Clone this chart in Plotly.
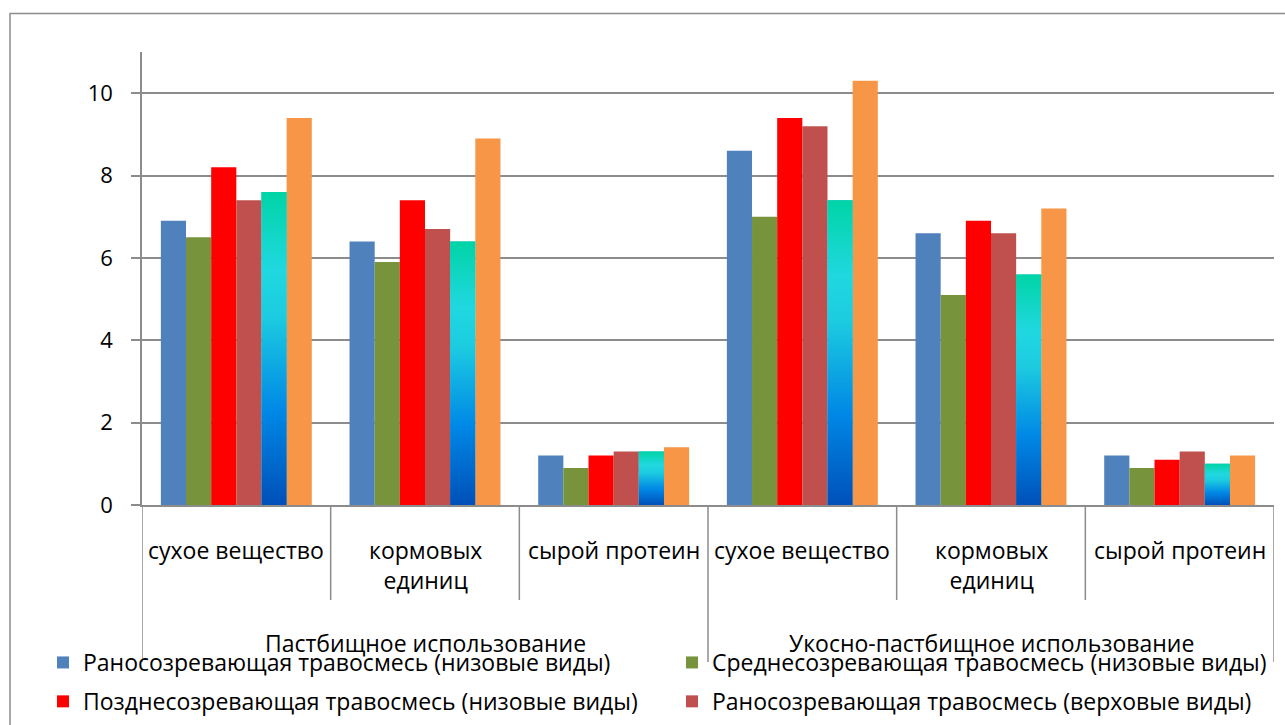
import plotly.graph_objects as go

# Categories (two-level axis)
groups = ["Пастбищное использование"] * 3 + ["Укосно-пастбищное использование"] * 3
metrics = ["сухое вещество", "кормовых единиц", "сырой протеин"] * 2
metric_labels = ["сухое вещество", "кормовых<br>единиц", "сырой протеин"] * 2
group_labels = ["Пастбищное использование", "Укосно-пастбищное использование"]

# Series values
early_low = [6.9, 6.4, 1.2, 8.6, 6.6, 1.2]
mid_low = [6.5, 5.9, 0.9, 7.0, 5.1, 0.9]
late_low = [8.2, 7.4, 1.2, 9.4, 6.9, 1.1]
early_high = [7.4, 6.7, 1.3, 9.2, 6.6, 1.3]
mid_high = [7.6, 6.4, 1.3, 7.4, 5.6, 1.0]
late_high = [9.4, 8.9, 1.4, 10.3, 7.2, 1.2]

# name, values, colour, which legend column (None = not shown, cut off in the original)
series = [
    ("Раносозревающая травосмесь (низовые виды)", early_low, "#4f81bd", "legend"),
    ("Среднесозревающая травосмесь (низовые виды)", mid_low, "#77933c", "legend2"),
    ("Позднесозревающая травосмесь (низовые виды)", late_low, "#ff0000", "legend"),
    ("Раносозревающая травосмесь (верховые виды)", early_high, "#c0504d", "legend2"),
    ("Среднесозревающая травосмесь (верховые виды)", mid_high, "#14b4e4", None),
    ("Позднесозревающая травосмесь (верховые виды)", late_high, "#f79646", None),
]

FONT = "Open Sans, Noto Sans, sans-serif"
GRID = "#8c8c8c"
BARGAP = 0.2
W, H = 1285, 725
L, R, T, B = 142, 11, 52, 220

fig = go.Figure()
for name, vals, color, leg in series:
    fig.add_trace(
        go.Bar(
            x=[groups, metrics],
            y=vals,
            name=name,
            marker=dict(color=color, line=dict(width=0)),
            showlegend=leg is not None,
            legend=leg or "legend",
            legendgroup=name,
        )
    )

# gradient overlay for the 5th series (teal -> blue), drawn on a hidden linear axis
n_series = len(series)
bar_w = (1 - BARGAP) / n_series
k = 4
for i, v in enumerate(mid_high):
    left = i - (1 - BARGAP) / 2 + k * bar_w
    right = left + bar_w
    fig.add_trace(
        go.Scatter(
            x=[left, right, right, left, left],
            y=[0, 0, v, v, 0],
            xaxis="x2",
            mode="lines",
            line=dict(width=0),
            fill="toself",
            fillgradient=dict(
                type="vertical",
                start=0,
                stop=v,
                colorscale=[
                    [0, "#0050b8"],
                    [0.3, "#0088e6"],
                    [0.6, "#1ccbe0"],
                    [0.75, "#20d8e0"],
                    [1, "#00d4a6"],
                ],
            ),
            showlegend=False,
            hoverinfo="skip",
        )
    )

plot_h = H - T - B
plot_w = W - L - R


def py(pixel):
    return (H - B - pixel) / plot_h


def px(pixel):
    return (pixel - L) / plot_w


shapes = []
# vertical separators under the axis
for xb in [0.5, 1.5, 3.5, 4.5]:
    shapes.append(dict(type="line", xref="x2", yref="paper", x0=xb, x1=xb,
                       y0=0, y1=py(600), line=dict(color=GRID, width=1.5)))
for xb in [-0.5, 2.5, 5.5]:
    shapes.append(dict(type="line", xref="x2", yref="paper", x0=xb, x1=xb,
                       y0=0, y1=py(662), line=dict(color=GRID, width=1.5)))
# outer frame (top and left edges)
shapes.append(dict(type="path", xref="paper", yref="paper",
                   path=f"M {px(10)} {py(760)} L {px(10)} {py(13.5)} L {px(1300)} {py(13.5)}",
                   line=dict(color=GRID, width=1.5)))

annotations = []
for i, lab in enumerate(metric_labels):
    annotations.append(dict(x=i, y=py(532), xref="x2", yref="paper", text=lab,
                            showarrow=False, yanchor="top", xanchor="center",
                            font=dict(size=23, color="black", family=FONT)))
for j, lab in enumerate(group_labels):
    annotations.append(dict(x=1 + 3 * j, y=py(643), xref="x2", yref="paper", text=lab,
                            showarrow=False, yanchor="middle", xanchor="center",
                            font=dict(size=23, color="black", family=FONT)))

legend_style = dict(
    orientation="v",
    xref="container",
    yref="container",
    xanchor="left",
    yanchor="top",
    y=1 - 641 / H,
    font=dict(size=23, color="black", family=FONT),
    itemwidth=30,
    tracegroupgap=6,
    traceorder="grouped",
    bgcolor="rgba(0,0,0,0)",
)

fig.update_layout(
    width=W,
    height=H,
    margin=dict(l=L, r=R, t=T, b=B, autoexpand=False),
    barmode="group",
    bargap=BARGAP,
    bargroupgap=0,
    plot_bgcolor="white",
    paper_bgcolor="white",
    font=dict(family=FONT, size=23, color="black"),
    xaxis=dict(
        range=[-0.5, 5.5],
        showticklabels=False,
        ticks="",
        showgrid=False,
        showline=True,
        linecolor=GRID,
        linewidth=1.5,
        showdividers=False,
    ),
    xaxis2=dict(range=[-0.5, 5.5], overlaying="x", visible=False),
    yaxis=dict(
        range=[0, 11],
        tickvals=[0, 2, 4, 6, 8, 10],
        showgrid=True,
        gridcolor=GRID,
        gridwidth=1.5,
        zeroline=False,
        showline=True,
        linecolor=GRID,
        linewidth=1.5,
        ticks="outside",
        ticklen=9,
        tickcolor=GRID,
        tickwidth=1.5,
        tickfont=dict(size=22, color="black", family=FONT),
        ticklabelstandoff=14,
    ),
    legend=dict(legend_style, x=43 / W),
    legend2=dict(legend_style, x=672 / W),
    shapes=shapes,
    annotations=annotations,
)

# the page's default body margin would shift the chart by 8 px
fig.write_html(
    "out.html",
    config={"displayModeBar": False},
    post_script="document.body.style.margin = '0';",
)
